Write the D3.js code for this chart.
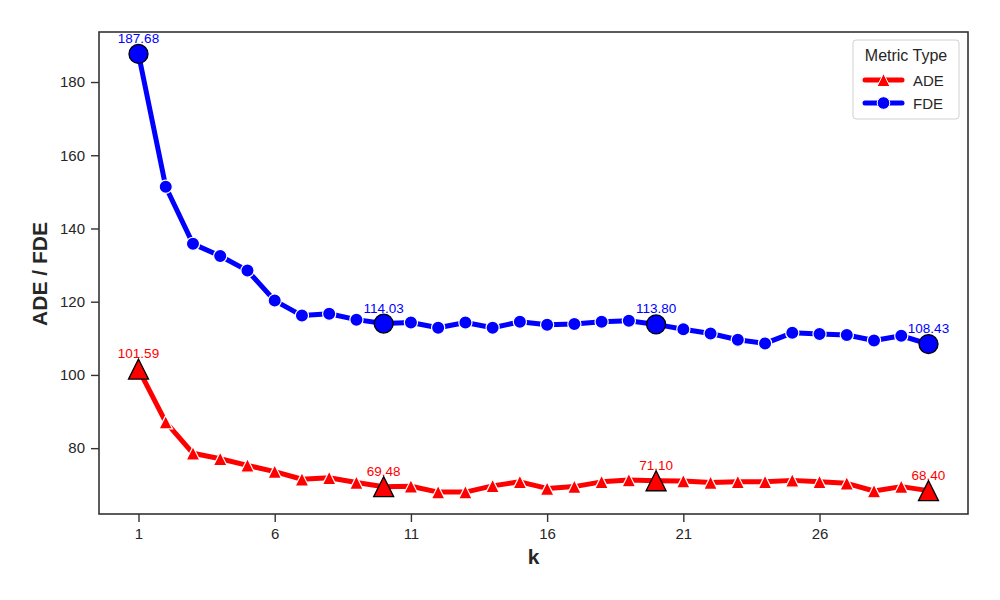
<!DOCTYPE html>
<html>
<head>
<meta charset="utf-8">
<script src="https://cdn.jsdelivr.net/npm/d3@7"></script>
<style>
  body { margin: 0; background: #fff; }
  svg { font-family: "Liberation Sans", Arial, sans-serif; }
</style>
</head>
<body>
<div id="graph"></div>
<script>
const margin = {top: 32, right: 32, bottom: 86, left: 99};
const width = 1000 - margin.left - margin.right;
const height = 600 - margin.top - margin.bottom;

// data
const ks = d3.range(1, 31);
const ade = [101.59, 87.1, 78.6, 77.1, 75.3, 73.6, 71.5, 71.9, 70.6, 69.48,
             69.6, 68.0, 68.0, 69.7, 70.8, 69.0, 69.5, 70.8, 71.3, 71.10,
             71.0, 70.6, 70.8, 70.8, 71.2, 70.8, 70.4, 68.3, 69.5, 68.40];
const fde = [187.68, 151.4, 135.8, 132.5, 128.5, 120.3, 116.2, 116.7, 115.1, 114.03,
             114.3, 112.9, 114.3, 112.9, 114.5, 113.7, 113.9, 114.5, 114.8, 113.80,
             112.5, 111.3, 109.6, 108.6, 111.5, 111.2, 110.9, 109.4, 110.7, 108.43];
const highlight = [1, 10, 20, 30];
const xTicks = [1, 6, 11, 16, 21, 26];
const yTicks = [80, 100, 120, 140, 160, 180];
const seriesNames = ["ADE", "FDE"];
const seriesColors = ["red", "blue"];

const series = [
  {name: seriesNames[0], color: seriesColors[0], values: ade, marker: "tri"},
  {name: seriesNames[1], color: seriesColors[1], values: fde, marker: "circle"}
];

const svg = d3.select("#graph")
  .append("svg")
  .attr("width", width + margin.left + margin.right)
  .attr("height", height + margin.top + margin.bottom)
  .append("g")
  .attr("transform", "translate(" + margin.left + "," + margin.top + ")");

// scales with matplotlib style 5% padding
const xPad = (30 - 1) * 0.05;
const x = d3.scaleLinear().domain([1 - xPad, 30 + xPad]).range([0, width]);
const allV = ade.concat(fde);
const yMin = d3.min(allV), yMax = d3.max(allV);
const yPad = (yMax - yMin) * 0.05;
const y = d3.scaleLinear().domain([yMin - yPad, yMax + yPad]).range([height, 0]);

// axes
const frameColor = "#333";
const xAxis = svg.append("g")
  .attr("transform", "translate(0," + height + ")")
  .call(d3.axisBottom(x).tickValues(xTicks).tickSize(8).tickPadding(6));
const yAxis = svg.append("g")
  .call(d3.axisLeft(y).tickValues(yTicks).tickSize(8).tickPadding(6));
[xAxis, yAxis].forEach(a => {
  a.select(".domain").remove();
  a.selectAll(".tick line").attr("stroke", frameColor).attr("stroke-width", 1.4);
  a.selectAll(".tick text").attr("fill", "#262626").style("font-size", "15px");
});

// frame
svg.append("rect")
  .attr("width", width).attr("height", height)
  .attr("fill", "none").attr("stroke", frameColor).attr("stroke-width", 1.6);

// axis labels
svg.append("text")
  .attr("x", width / 2).attr("y", height + 50)
  .attr("text-anchor", "middle")
  .style("font-size", "21px").style("font-weight", "bold")
  .attr("fill", "#262626")
  .text("k");

svg.append("text")
  .attr("transform", "rotate(-90)")
  .attr("x", -(274 - margin.top)).attr("y", -52)
  .attr("text-anchor", "middle")
  .style("font-size", "21px").style("font-weight", "bold")
  .attr("fill", "#262626")
  .text("ADE / FDE");

// marker paths, triangle centred on its box like matplotlib '^'
const triPath = s => `M0,${-s}L${-s},${s}L${s},${s}Z`;
const drawMarker = (g, type, size, color, edge, ew) => {
  if (type === "tri") {
    g.append("path").attr("d", triPath(size))
      .attr("fill", color).attr("stroke", edge).attr("stroke-width", ew)
      .attr("stroke-linejoin", "miter");
  } else {
    g.append("circle").attr("r", size)
      .attr("fill", color).attr("stroke", edge).attr("stroke-width", ew);
  }
};

const line = d3.line()
  .x((d, i) => x(ks[i]))
  .y(d => y(d));

series.forEach(s => {
  svg.append("path")
    .datum(s.values)
    .attr("d", line)
    .attr("fill", "none")
    .attr("stroke", s.color)
    .attr("stroke-width", 5)
    .attr("stroke-linejoin", "round")
    .attr("stroke-linecap", "round");

  s.values.forEach((v, i) => {
    const g = svg.append("g").attr("transform", `translate(${x(ks[i])},${y(v)})`);
    drawMarker(g, s.marker, s.marker === "tri" ? 6.8 : 6.6, s.color, "#fff", 1.2);
  });

  highlight.forEach(k => {
    const v = s.values[k - 1];
    const g = svg.append("g").attr("transform", `translate(${x(k)},${y(v)})`);
    drawMarker(g, s.marker, s.marker === "tri" ? 10 : 9.5, s.color, "#000", 1.3);
    svg.append("text")
      .attr("x", x(k)).attr("y", y(v) - 11)
      .attr("text-anchor", "middle")
      .style("font-size", "13.5px")
      .attr("fill", s.color)
      .text(v.toFixed(2));
  });
});

// legend
const legend = svg.append("g")
  .attr("transform", `translate(${853 - margin.left},${40 - margin.top})`);
legend.append("rect")
  .attr("width", 106).attr("height", 79).attr("rx", 3)
  .attr("fill", "#fff").attr("stroke", "#d0d0d0").attr("stroke-width", 1);
legend.append("text")
  .attr("x", 53).attr("y", 21)
  .attr("text-anchor", "middle")
  .style("font-size", "16px").attr("fill", "#262626")
  .text("Metric Type");
series.forEach((s, i) => {
  const row = legend.append("g").attr("transform", `translate(0,${40 + i * 23})`);
  row.append("line")
    .attr("x1", 12).attr("x2", 49).attr("y1", 0).attr("y2", 0)
    .attr("stroke", s.color).attr("stroke-width", 5).attr("stroke-linecap", "round");
  const m = row.append("g").attr("transform", "translate(30.5,0)");
  drawMarker(m, s.marker, s.marker === "tri" ? 6.5 : 6.3, s.color, "#fff", 1);
  row.append("text")
    .attr("x", 60).attr("y", 5.5)
    .style("font-size", "15px").attr("fill", "#262626")
    .text(s.name);
});
</script>
</body>
</html>
